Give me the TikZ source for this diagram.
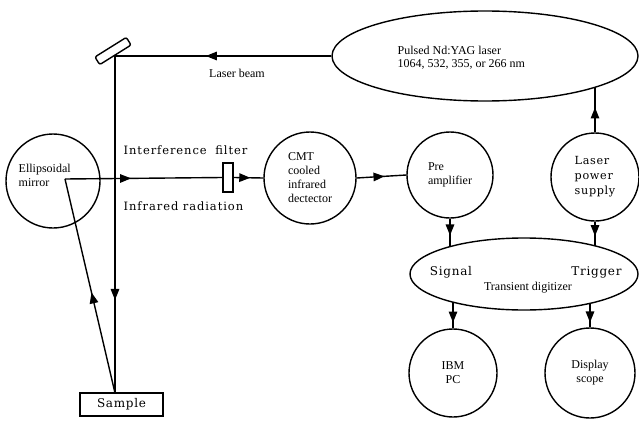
\documentclass[tikz,border=0pt]{standalone}
\usepackage{fontspec}
\setmainfont{Liberation Serif}
\newfontfamily\typew[LetterSpace=6]{DejaVu Serif}
\newfontfamily\typewide[LetterSpace=8]{DejaVu Serif}
\usetikzlibrary{arrows.meta,decorations.markings,shapes.geometric}
\begin{document}
\begin{tikzpicture}[x=1pt,y=-1pt,line width=1.4pt,
  rnd/.style={draw,circle,inner sep=0pt,minimum size=#1,align=left},
  oval/.style={draw,ellipse,inner sep=0pt},
  serif/.style={font=\fontsize{12}{14}\selectfont},
  mono/.style={font=\typew\fontsize{#1}{15}\selectfont},
  beamtext/.style={font=\typewide\fontsize{11.5}{15}\selectfont,anchor=west,inner sep=0pt},
  midarrow/.style={postaction={decorate},decoration={markings,
     mark=at position #1 with {\arrow{Triangle[length=11pt,width=8.5pt]}}}},
  midarrow/.default=0.5]
\useasboundingbox (0,0) rectangle (639,420);

% nodes
\node[oval,minimum width=306pt,minimum height=90pt] (laser) at (485,56) {};
\node[font=\fontsize{12}{12.5}\selectfont,align=left,anchor=west,inner sep=0pt] (lasertext) at (397,58)
  {Pulsed Nd:YAG laser\\1064, 532, 355, or 266 nm};
\node[draw,rounded corners=2pt,minimum width=37pt,minimum height=9pt,
  inner sep=0pt,rotate=32] (mirror) at (113,51) {};
\node[serif,inner sep=0pt] (beamlabel) at (237,73) {Laser beam};

\node[rnd=94pt] (ell) at (53,181) {};
\node[serif,align=left,anchor=west,inner sep=0pt] (elltext) at (18,175)
  {Ellipsoidal\\mirror};

\node[draw,inner sep=0pt,minimum width=10pt,minimum height=29pt] (filter) at (228,177.5) {};
\node[beamtext] (iflabel) at (123,150) {Interference\hspace{0.75em}filter};
\node[beamtext] (irlabel) at (123,206) {Infrared radiation};

\node[rnd=92pt,serif] (cmt) at (310,178) {CMT\\cooled\\infrared\\dectector};
\node[rnd=86pt,serif] (pre) at (450,175) {Pre\\amplifier};
\node[rnd=88pt,mono=11.2] (power) at (595,177) {Laser\\power\\supply};

\node[oval,minimum width=228pt,minimum height=72pt] (dig) at (524,274) {};
\node[mono=12,inner sep=0pt] (signal) at (451,272) {Signal};
\node[mono=12,inner sep=0pt] (trigger) at (596.5,272) {Trigger};
\node[serif,inner sep=0pt] (digtext) at (528,288) {Transient digitizer};

\node[rnd=88pt,serif,align=center] (ibm) at (453,373) {IBM\\PC};
\node[rnd=90pt,serif,align=center] (disp) at (590,373) {Display\\scope};

\node[draw,inner sep=0pt,minimum width=83pt,minimum height=23pt,mono=12] (sample) at (121.5,404.5) {Sample};

% coordinates
\coordinate (corner) at (115,56);
\coordinate (sp) at (115,393);
\coordinate (focus) at (65,179);
\coordinate (lp) at (595,88);
\coordinate (dtopL) at (450,246.6);
\coordinate (dtopR) at (595,245.7);
\coordinate (dbotL) at (453,302);
\coordinate (dbotR) at (590,303);

% connectors
\draw[midarrow=0.58] (laser.west) -- (corner);
\draw[midarrow=0.724] (corner) -- (sp);
\draw[midarrow=0.47] (sp) -- (focus);
\draw[midarrow=0.42] (focus) -- (filter.west);
\draw[midarrow=0.56] (filter.east) -- (cmt.west);
\draw[midarrow=0.56] (cmt.east) -- (pre.west);
\draw[midarrow=0.56] (power.north) -- (lp);
\draw[midarrow=0.6] (pre.south) -- (dtopL);
\draw[midarrow=0.6] (power.south) -- (dtopR);
\draw[midarrow=0.78] (dbotL) -- (ibm.north);
\draw[midarrow=0.8] (dbotR) -- (disp.north);
\end{tikzpicture}
\end{document}
